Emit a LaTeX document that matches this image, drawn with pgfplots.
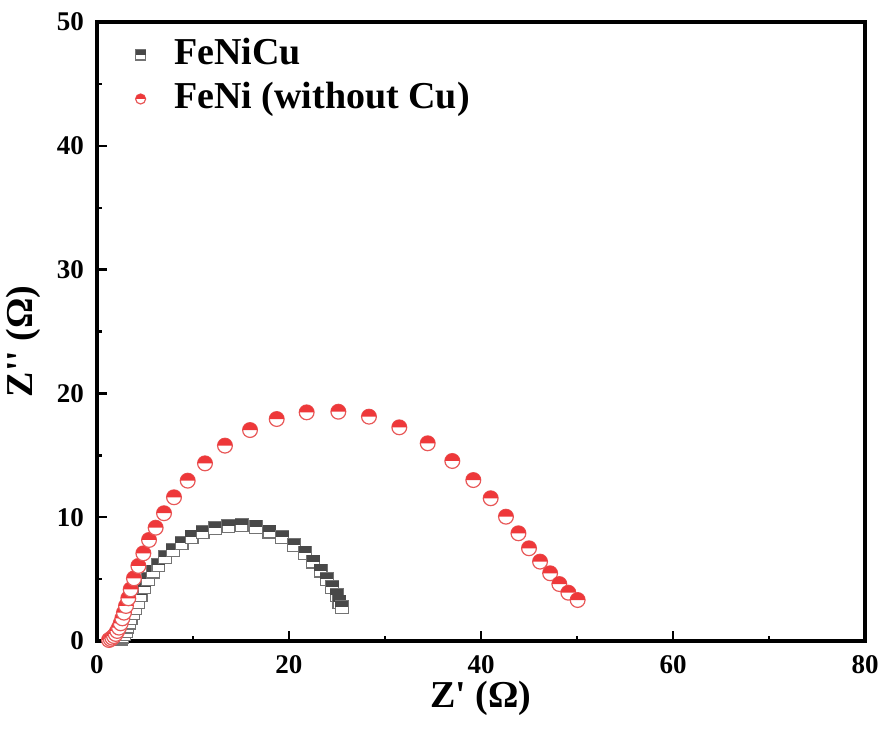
\documentclass[border=0pt]{standalone}
\usepackage{fontspec}
\setmainfont{Liberation Serif}
\usepackage{pgfplots}
\pgfplotsset{compat=1.18}
\usetikzlibrary{plotmarks}
\definecolor{sqdark}{RGB}{72,72,72}
\definecolor{sqedge}{RGB}{115,115,115}
\definecolor{cired}{RGB}{238,56,58}
\definecolor{ciedge}{RGB}{232,88,88}
\pgfdeclareplotmark{hsq}{%
  \pgfpathrectangle{\pgfqpoint{-\pgfplotmarksize}{-\pgfplotmarksize}}{\pgfqpoint{2\pgfplotmarksize}{2\pgfplotmarksize}}%
  \pgfusepathqfillstroke
  \begin{pgfscope}%
  \pgfsetfillcolor{sqdark}%
  \pgfpathrectangle{\pgfqpoint{-\pgfplotmarksize}{0pt}}{\pgfqpoint{2\pgfplotmarksize}{\pgfplotmarksize}}%
  \pgfusepathqfill
  \end{pgfscope}%
}
\pgfdeclareplotmark{hci}{%
  \pgfpathcircle{\pgfpointorigin}{\pgfplotmarksize}%
  \pgfusepathqfillstroke
  \begin{pgfscope}%
  \pgfsetfillcolor{cired}%
  \pgfpathmoveto{\pgfqpoint{\pgfplotmarksize}{0pt}}%
  \pgfpatharc{0}{180}{\pgfplotmarksize}%
  \pgfpathclose
  \pgfusepathqfill
  \end{pgfscope}%
}
\pgfplotstableread{
x y
2.50 0.20
2.64 0.35
2.81 0.57
2.99 0.83
3.16 1.16
3.33 1.48
3.51 1.83
3.72 2.24
3.96 2.64
4.24 3.17
4.55 3.72
4.93 4.34
5.34 4.98
5.86 5.60
6.39 6.14
7.08 6.76
7.89 7.35
8.82 7.89
9.86 8.42
11.01 8.78
12.29 9.10
13.68 9.29
15.07 9.37
16.56 9.23
17.95 8.83
19.30 8.38
20.52 7.75
21.67 7.13
22.53 6.41
23.30 5.68
23.93 4.98
24.51 4.34
24.97 3.72
25.24 3.17
25.49 2.72
}\fenicu
\pgfplotstableread{
x y
1.25 0.08
1.43 0.16
1.59 0.27
1.77 0.40
1.95 0.57
2.11 0.81
2.29 1.08
2.47 1.43
2.64 1.83
2.81 2.29
3.02 2.83
3.26 3.45
3.51 4.17
3.85 5.06
4.31 6.06
4.83 7.08
5.42 8.16
6.11 9.15
6.98 10.32
8.02 11.61
9.45 12.95
11.25 14.35
13.33 15.78
15.94 17.04
18.72 17.93
21.84 18.47
25.14 18.52
28.33 18.12
31.49 17.26
34.45 15.97
37.01 14.54
39.20 13.00
41.01 11.53
42.60 10.04
43.90 8.70
45.00 7.49
46.15 6.41
47.20 5.47
48.16 4.60
49.10 3.90
50.07 3.31
}\feni
\begin{document}
\begin{tikzpicture}
\begin{axis}[
  scale only axis, width=384pt, height=309.5pt,
  xmin=0, xmax=80, ymin=0, ymax=50,
  xtick={0,20,40,60,80}, ytick={0,10,20,30,40,50},
  minor x tick num=1, minor y tick num=1,
  tick align=inside, xtick pos=bottom, ytick pos=left,
  major tick length=5pt, minor tick length=2.5pt,
  axis line style={line width=1.6pt},
  tick style={black, line width=1.2pt},
  tick label style={font=\bfseries\fontsize{13.5}{16}\selectfont},
  /pgf/number format/assume math mode=true,
  xticklabel style={yshift=-3.5pt},
  yticklabel style={xshift=-3pt},
  xlabel={Z\textquotesingle{} (Ω)},
  ylabel={Z\textquotesingle\textquotesingle{} (Ω)},
  every axis x label/.style={at={(axis description cs:0.5,-0.1082)}, anchor=base, inner sep=0pt, font=\bfseries\fontsize{19}{22}\selectfont},
  every axis y label/.style={at={(axis description cs:-0.0846,0.484)}, anchor=base, rotate=90, inner sep=0pt, font=\bfseries\fontsize{19}{22}\selectfont},
  legend style={draw=none, fill=none, at={(axis description cs:0.0495,0.9758)}, anchor=north west,
    inner sep=0pt, outer sep=0pt, row sep=4pt, column sep=0pt,
    font=\bfseries\fontsize{19}{22}\selectfont,
    nodes={inner sep=0pt, text height=14pt, text depth=4pt}},
  legend cell align=left,
  legend image code/.code={\path[#1, mark size=2.5pt, only marks] plot coordinates {(2.5pt,0pt)}; \path (0pt,0pt) (19pt,0pt);},
]
\addplot[only marks, mark=hsq, mark size=3.2pt, draw=sqedge, fill=white, line width=0.6pt] table[x=x,y=y] {\fenicu};
\addlegendentry{FeNiCu}
\addplot[only marks, mark=hci, mark size=3.7pt, draw=ciedge, fill=white, line width=0.6pt] table[x=x,y=y] {\feni};
\addlegendentry{FeNi (without Cu)}
\end{axis}
\pgfresetboundingbox
\path (-48.5pt,-43.5pt) rectangle (393pt,320.5pt);
\end{tikzpicture}
\end{document}
